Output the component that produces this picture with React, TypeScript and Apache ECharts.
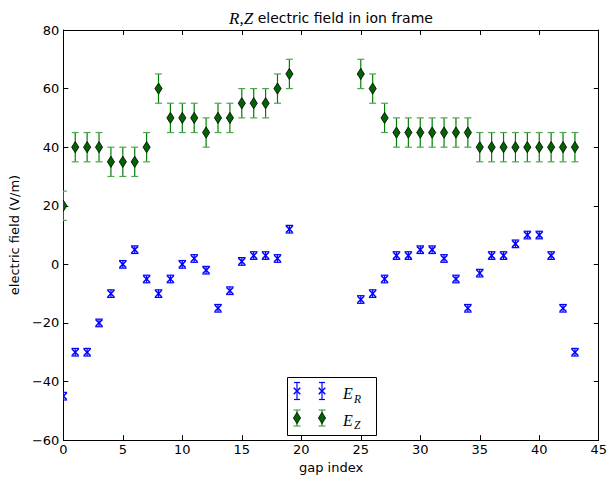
import React, { useEffect, useRef } from "react";
import * as echarts from "echarts";

const gapIndex = [
  0, 1, 2, 3, 4, 5, 6, 7, 8, 9, 10, 11, 12, 13, 14, 15, 16, 17, 18, 19,
  25, 26, 27, 28, 29, 30, 31, 32, 33, 34, 35, 36, 37, 38, 39, 40, 41, 42, 43,
];
const erValues = [
  -45, -30, -30, -20, -10, 0, 5, -5, -10, -5, 0, 2, -2, -15, -9, 1, 3, 3, 2, 12,
  -12, -10, -5, 3, 3, 5, 5, 2, -5, -15, -3, 3, 3, 7, 10, 10, 3, -15, -30,
];
const ezValues = [
  20, 40, 40, 40, 35, 35, 35, 40, 60, 50, 50, 50, 45, 50, 50, 55, 55, 55, 60, 65,
  65, 60, 50, 45, 45, 45, 45, 45, 45, 45, 40, 40, 40, 40, 40, 40, 40, 40, 40,
];
const erErr = gapIndex.map(() => 1.3);
const ezErr = gapIndex.map(() => 5);

const xTicks = { min: 0, max: 45, interval: 5 };
const yTicks = { min: -60, max: 80, interval: 20 };

const FONT = "DejaVu Sans";
const MATH = "Liberation Serif";
const BLUE = "#0000ff";
const GREEN = "#008000";
const GREEN_CAP = "#4da64d";
const DIAMOND = "#006400";

function fmt(v: number) {
  return v < 0 ? "\u2212" + Math.abs(v) : String(v);
}

function xMarker(cx: number, cy: number, s: number) {
  return [
    { type: "line", shape: { x1: cx - s, y1: cy - s, x2: cx + s, y2: cy + s }, style: { stroke: BLUE, lineWidth: 1.5 } },
    { type: "line", shape: { x1: cx - s, y1: cy + s, x2: cx + s, y2: cy - s }, style: { stroke: BLUE, lineWidth: 1.5 } },
  ];
}
function diamond(cx: number, cy: number, w: number, h: number) {
  return {
    type: "polygon",
    shape: { points: [[cx, cy - h], [cx + w, cy], [cx, cy + h], [cx - w, cy]] },
    style: { fill: DIAMOND, stroke: "#000", lineWidth: 0.8 },
  };
}
function errBar(cx: number, yt: number, yb: number, cw: number, col: string, capCol: string) {
  return [
    { type: "line", shape: { x1: cx, y1: yt, x2: cx, y2: yb }, style: { stroke: col, lineWidth: 1.2 } },
    { type: "line", shape: { x1: cx - cw, y1: yt, x2: cx + cw, y2: yt }, style: { stroke: capCol, lineWidth: 1.2 } },
    { type: "line", shape: { x1: cx - cw, y1: yb, x2: cx + cw, y2: yb }, style: { stroke: capCol, lineWidth: 1.2 } },
  ];
}

function makeRender(kind: "R" | "Z") {
  return (params: any, api: any) => {
    const x = api.value(0);
    const y = api.value(1);
    const e = api.value(2);
    const c = api.coord([x, y]);
    const t = api.coord([x, y + e]);
    const b = api.coord([x, y - e]);
    const children: any[] =
      kind === "R"
        ? [...errBar(c[0], t[1], b[1], 3.8, BLUE, BLUE), ...xMarker(c[0], c[1], 3.3)]
        : [...errBar(c[0], t[1], b[1], 3.5, GREEN, GREEN_CAP), diamond(c[0], c[1], 3.6, 5.6)];
    return { type: "group", children };
  };
}

export default function App() {
  const ref = useRef<HTMLDivElement>(null);
  useEffect(() => {
    document.body.style.margin = "0";
    const chart = echarts.init(ref.current!, undefined, { renderer: "svg" });
    const erData = gapIndex.map((g, i) => [g, erValues[i], erErr[i]]);
    const ezData = gapIndex.map((g, i) => [g, ezValues[i], ezErr[i]]);

    const baseAxis = {
      axisLine: { show: true, onZero: false, lineStyle: { color: "#000", width: 1 } },
      axisTick: { show: true, inside: true, length: 5, lineStyle: { color: "#000" } },
      splitLine: { show: false },
    };

    const lx1 = 297, lx2 = 322, lyR = 391, lyZ = 418;
    const legendChildren: any[] = [
      { type: "rect", shape: { x: 287.5, y: 377.5, width: 89, height: 58 }, style: { fill: "#fff", stroke: "#000", lineWidth: 1 } },
    ];
    for (const lx of [lx1, lx2]) {
      legendChildren.push(...errBar(lx, lyR - 8.5, lyR + 8.5, 3, BLUE, BLUE), ...xMarker(lx, lyR, 3.3));
      legendChildren.push(...errBar(lx, lyZ - 8, lyZ + 8, 3.5, GREEN, GREEN_CAP), diamond(lx, lyZ, 3.6, 5.6));
    }
    legendChildren.push(
      { type: "text", style: { text: "E", x: 343, y: 393.5, fontFamily: MATH, fontStyle: "italic", fontSize: 16, fill: "#000", verticalAlign: "middle" } },
      { type: "text", style: { text: "R", x: 354, y: 398.5, fontFamily: MATH, fontStyle: "italic", fontSize: 11.5, fill: "#000", verticalAlign: "middle" } },
      { type: "text", style: { text: "E", x: 343, y: 420, fontFamily: MATH, fontStyle: "italic", fontSize: 16, fill: "#000", verticalAlign: "middle" } },
      { type: "text", style: { text: "Z", x: 354, y: 424.8, fontFamily: MATH, fontStyle: "italic", fontSize: 11.5, fill: "#000", verticalAlign: "middle" } },
    );

    chart.setOption({
      animation: false,
      backgroundColor: "#fff",
      grid: { left: 63, right: 11, top: 30, bottom: 35, containLabel: false },
      xAxis: [
        {
          type: "value", ...xTicks, ...baseAxis, position: "bottom",
          name: "gap index", nameLocation: "middle", nameGap: 20,
          nameTextStyle: { fontFamily: FONT, fontSize: 13, color: "#000" },
          axisLabel: { fontFamily: FONT, fontSize: 13, color: "#000", margin: 3, formatter: fmt },
        },
        { type: "value", ...xTicks, ...baseAxis, position: "top", axisLabel: { show: false } },
      ],
      yAxis: [
        {
          type: "value", ...yTicks, ...baseAxis, position: "left",
          name: "electric field (V/m)", nameLocation: "middle", nameGap: 37, nameRotate: 90,
          nameTextStyle: { fontFamily: FONT, fontSize: 13, color: "#000" },
          axisLabel: { fontFamily: FONT, fontSize: 13, color: "#000", margin: 4, formatter: fmt },
        },
        { type: "value", ...yTicks, ...baseAxis, position: "right", axisLabel: { show: false } },
      ],
      series: [
        { type: "custom", name: "E_R", clip: true, renderItem: makeRender("R"), data: erData, encode: { x: 0, y: 1 }, z: 2 },
        { type: "custom", name: "E_Z", clip: true, renderItem: makeRender("Z"), data: ezData, encode: { x: 0, y: 1 }, z: 3 },
      ],
      graphic: [
        {
          type: "text", x: 331, y: 18,
          style: {
            text: "{m|R,Z} electric field in ion frame",
            fontFamily: FONT, fontSize: 14, fill: "#000", align: "center", verticalAlign: "middle",
            rich: { m: { fontFamily: MATH, fontStyle: "italic", fontSize: 17, fill: "#000" } },
          },
        },
        { type: "group", z: 100, children: legendChildren },
      ],
    });
    return () => chart.dispose();
  }, []);
  return <div ref={ref} style={{ width: 610, height: 479 }} />;
}
